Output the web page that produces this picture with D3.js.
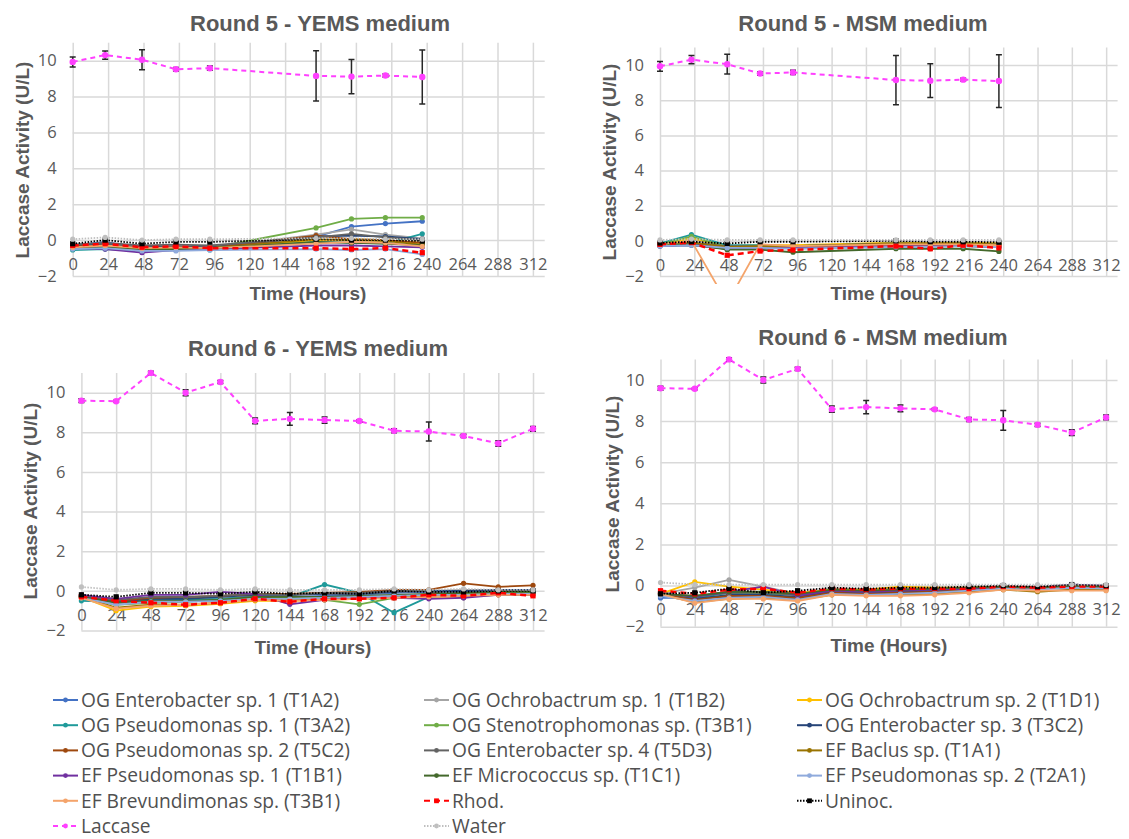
<!DOCTYPE html>
<html>
<head>
<meta charset="utf-8">
<script src="https://cdn.jsdelivr.net/npm/d3@7"></script>
<style>
  body { margin: 0; background: #fff; }
  svg { display: block; }
  .title { font-family: "Liberation Sans", Arial, sans-serif; font-weight: bold; font-size: 22px; fill: #595959; }
  .axis-title { font-family: "Liberation Sans", Arial, sans-serif; font-weight: bold; font-size: 19px; fill: #595959; }
  .tick text { font-family: "Open Sans", sans-serif; font-size: 16.5px; fill: #595959; }
  .legend text { font-family: "Open Sans", sans-serif; font-size: 19.2px; fill: #505050; }
</style>
</head>
<body>
<div id="chart"></div>
<script>
const W = 1129, H = 839;

// sampling times (hours)
const timesR5 = [0, 22, 47, 70, 93, 165, 189, 212, 237];
const timesR6 = [0, 24, 48, 72, 96, 120, 144, 168, 192, 216, 240, 264, 288, 312];
const xTicks = [0, 24, 48, 72, 96, 120, 144, 168, 192, 216, 240, 264, 288, 312];
const yTicks = [-2, 0, 2, 4, 6, 8, 10];

const seriesNames = [
  "OG Enterobacter sp. 1 (T1A2)", "OG Ochrobactrum sp. 1 (T1B2)", "OG Ochrobactrum sp. 2 (T1D1)",
  "OG Pseudomonas sp. 1 (T3A2)", "OG Stenotrophomonas sp. (T3B1)", "OG Enterobacter sp. 3 (T3C2)",
  "OG Pseudomonas sp. 2 (T5C2)", "OG Enterobacter sp. 4 (T5D3)", "EF Baclus sp. (T1A1)",
  "EF Pseudomonas sp. 1 (T1B1)", "EF Micrococcus sp.  (T1C1)", "EF Pseudomonas sp. 2 (T2A1)",
  "EF Brevundimonas sp. (T3B1)", "Rhod.", "Uninoc.",
  "Laccase", "Water"
];
const seriesColors = [
  "#4472c4", "#a5a5a5", "#ffc000",
  "#1f9a9a", "#70ad47", "#264478",
  "#9e480e", "#636363", "#997300",
  "#7030a0", "#43682b", "#8faadc",
  "#f4a46b", "#ff0000", "#000000",
  "#ff40ff", "#bfbfbf"
];
const seriesDash = ["", "", "", "", "", "", "", "", "", "", "", "", "", "6,4", "1.5,1.5", "5,4", "1.5,1.5"];
const seriesMarker = ["c", "c", "c", "c", "c", "c", "c", "c", "c", "c", "c", "c", "c", "s", "s", "c", "c"];

// laccase control (same in both media of a round)
const laccaseR5 = [9.93, 10.31, 10.05, 9.52, 9.58, 9.15, 9.11, 9.17, 9.09];
const laccaseErrR5 = [0.28, 0.23, 0.56, 0.1, 0.12, 1.4, 0.96, 0.08, 1.5];
const laccaseR6 = [9.6, 9.57, 11.0, 10.0, 10.54, 8.58, 8.68, 8.62, 8.57, 8.08, 8.04, 7.82, 7.44, 8.18];
const laccaseErrR6 = [0.1, 0.05, 0.08, 0.15, 0.08, 0.15, 0.32, 0.16, 0.06, 0.1, 0.48, 0.08, 0.14, 0.12];

// Round 5 - YEMS (rows in legend order, laccase excluded)
const r5Yems = [
  [-0.3, -0.1, -0.45, -0.5, -0.5, 0.2, 0.75, 0.92, 1.05],
  [-0.3, -0.2, -0.4, -0.35, -0.4, 0.3, 0.6, 0.3, 0.1],
  [-0.35, -0.3, -0.4, -0.4, -0.45, 0.0, 0.05, 0.0, -0.15],
  [-0.55, -0.5, -0.6, -0.55, -0.55, -0.1, -0.15, -0.2, 0.35],
  [-0.45, -0.4, -0.55, -0.5, -0.45, 0.68, 1.18, 1.25, 1.25],
  [-0.3, -0.25, -0.4, -0.35, -0.4, 0.2, 0.25, 0.2, 0.05],
  [-0.35, -0.3, -0.45, -0.4, -0.45, 0.25, 0.05, 0.0, -0.15],
  [-0.25, -0.15, -0.3, -0.25, -0.3, 0.15, 0.35, 0.15, 0.0],
  [-0.4, -0.35, -0.5, -0.45, -0.45, 0.05, 0.0, -0.05, -0.25],
  [-0.45, -0.5, -0.7, -0.55, -0.5, -0.3, -0.3, -0.35, -0.4],
  [-0.4, -0.4, -0.55, -0.5, -0.45, -0.1, -0.15, -0.2, -0.3],
  [-0.5, -0.45, -0.6, -0.6, -0.55, -0.5, -0.55, -0.5, -0.8],
  [-0.4, -0.3, -0.45, -0.4, -0.45, -0.2, -0.1, -0.15, -0.35],
  [-0.3, -0.2, -0.4, -0.35, -0.45, -0.45, -0.5, -0.45, -0.7],
  [-0.2, 0.0, -0.2, -0.1, -0.1, 0.05, 0.0, 0.0, -0.05],
  [0.05, 0.15, 0.0, 0.05, 0.05, 0.1, 0.1, 0.05, 0.05]
];

// Round 5 - MSM
const r5Msm = [
  [-0.25, -0.15, -0.45, -0.4, -0.4, -0.2, -0.25, -0.25, -0.3],
  [-0.2, 0.1, -0.35, -0.3, -0.3, -0.1, -0.1, -0.1, -0.15],
  [-0.2, 0.15, -0.3, -0.25, -0.25, -0.1, -0.15, -0.1, -0.15],
  [-0.15, 0.35, -0.25, -0.25, -0.3, -0.15, -0.2, -0.15, -0.2],
  [-0.2, 0.25, -0.35, -0.35, -0.4, -0.25, -0.3, -0.3, -0.35],
  [-0.3, -0.25, -0.45, -0.4, -0.4, -0.25, -0.3, -0.3, -0.3],
  [-0.25, -0.15, -0.4, -0.35, -0.35, -0.2, -0.25, -0.2, -0.25],
  [-0.2, -0.1, -0.3, -0.3, -0.3, -0.15, -0.2, -0.15, -0.2],
  [-0.25, -0.1, -0.35, -0.3, -0.3, -0.15, -0.15, -0.15, -0.2],
  [-0.3, -0.2, -0.45, -0.45, -0.4, -0.3, -0.3, -0.3, -0.35],
  [-0.2, -0.2, -0.5, -0.5, -0.65, -0.45, -0.45, -0.45, -0.6],
  [-0.3, -0.25, -0.4, -0.4, -0.45, -0.35, -0.35, -0.3, -0.35],
  [-0.2, 0.0, -3.55, -0.2, -0.3, -0.2, -0.2, -0.2, -0.25],
  [-0.2, -0.1, -0.82, -0.58, -0.52, -0.3, -0.45, -0.25, -0.4],
  [-0.12, -0.05, -0.15, -0.05, -0.05, 0.0, -0.05, -0.05, -0.08],
  [0.05, 0.1, 0.05, 0.05, 0.05, 0.05, 0.05, 0.05, 0.05]
];

// Round 6 - YEMS
const r6Yems = [
  [-0.3, -0.6, -0.5, -0.45, -0.4, -0.25, -0.3, -0.25, -0.2, -0.1, -0.05, -0.05, 0.0, 0.0],
  [-0.25, -0.5, -0.35, -0.35, -0.3, -0.2, -0.2, -0.15, -0.15, -0.05, 0.0, 0.05, 0.05, 0.05],
  [-0.3, -1.0, -0.8, -0.75, -0.65, -0.5, -0.5, -0.45, -0.4, -0.35, -0.3, -0.3, -0.2, -0.2],
  [-0.5, -0.55, -0.45, -0.45, -0.4, -0.3, -0.3, 0.32, -0.1, -1.1, -0.3, -0.2, -0.1, -0.1],
  [-0.35, -0.7, -0.6, -0.55, -0.45, -0.3, -0.35, -0.45, -0.68, -0.35, -0.2, -0.15, -0.1, -0.1],
  [-0.25, -0.55, -0.4, -0.4, -0.3, -0.2, -0.2, -0.15, -0.15, -0.05, 0.0, 0.0, 0.05, 0.05],
  [-0.2, -0.5, -0.35, -0.3, -0.25, -0.15, -0.15, -0.1, -0.05, 0.05, 0.05, 0.38, 0.2, 0.28],
  [-0.25, -0.45, -0.3, -0.3, -0.25, -0.15, -0.2, -0.1, -0.1, 0.0, 0.0, -0.35, 0.0, 0.0],
  [-0.3, -0.85, -0.7, -0.7, -0.6, -0.45, -0.45, -0.4, -0.35, -0.3, -0.25, -0.2, -0.15, -0.15],
  [-0.2, -0.4, -0.2, -0.2, -0.05, -0.15, -0.68, -0.45, -0.35, -0.35, -0.4, -0.35, -0.2, -0.2],
  [-0.3, -0.6, -0.5, -0.5, -0.45, -0.3, -0.3, -0.3, -0.25, -0.2, -0.15, -0.1, -0.05, -0.05],
  [-0.35, -0.7, -0.55, -0.55, -0.5, -0.4, -0.4, -0.35, -0.3, -0.25, -0.2, -0.2, -0.15, -0.15],
  [-0.35, -0.9, -0.75, -0.7, -0.6, -0.45, -0.5, -0.45, -0.4, -0.35, -0.3, -0.25, -0.2, -0.2],
  [-0.3, -0.5, -0.6, -0.7, -0.6, -0.4, -0.55, -0.4, -0.4, -0.35, -0.2, -0.25, -0.1, -0.25],
  [-0.2, -0.3, -0.1, -0.1, -0.15, -0.05, -0.15, -0.1, -0.15, 0.0, -0.05, -0.05, 0.0, 0.0],
  [0.2, 0.05, 0.1, 0.1, 0.05, 0.1, 0.05, 0.05, 0.05, 0.1, 0.05, 0.1, 0.05, 0.05]
];

// Round 6 - MSM
const r6Msm = [
  [-0.6, -0.6, -0.55, -0.5, -0.65, -0.35, -0.4, -0.35, -0.3, -0.25, -0.15, -0.15, -0.1, -0.1],
  [-0.4, -0.1, 0.28, -0.05, -0.4, -0.15, -0.2, -0.15, -0.15, -0.1, -0.05, -0.1, 0.0, -0.05],
  [-0.4, 0.18, -0.05, -0.2, -0.35, -0.2, -0.2, -0.05, -0.1, -0.1, -0.05, -0.1, -0.05, -0.05],
  [-0.45, -0.6, -0.35, -0.4, -0.45, -0.3, -0.35, -0.3, -0.25, -0.2, -0.1, -0.15, -0.05, -0.05],
  [-0.4, -0.55, -0.3, -0.35, -0.45, -0.25, -0.3, -0.25, -0.2, -0.15, -0.1, -0.1, -0.05, -0.05],
  [-0.45, -0.65, -0.45, -0.45, -0.55, -0.3, -0.35, -0.3, -0.25, -0.2, -0.1, -0.15, -0.05, -0.05],
  [-0.4, -0.7, -0.5, -0.5, -0.6, -0.35, -0.4, -0.35, -0.3, -0.2, -0.1, -0.15, -0.05, -0.1],
  [-0.4, -0.5, -0.35, -0.35, -0.45, -0.25, -0.3, -0.25, -0.2, -0.15, -0.05, -0.1, 0.0, -0.05],
  [-0.45, -0.8, -0.65, -0.6, -0.7, -0.45, -0.45, -0.45, -0.4, -0.3, -0.2, -0.3, -0.2, -0.2],
  [-0.35, -0.55, -0.3, -0.05, -0.5, -0.25, -0.3, -0.25, -0.2, -0.15, -0.05, -0.1, 0.05, 0.0],
  [-0.4, -0.5, -0.3, -0.3, -0.4, -0.2, -0.25, -0.2, -0.15, -0.1, -0.05, -0.1, 0.0, -0.05],
  [-0.5, -0.75, -0.6, -0.55, -0.7, -0.4, -0.45, -0.4, -0.35, -0.25, -0.15, -0.2, -0.1, -0.15],
  [-0.4, -0.85, -0.65, -0.65, -0.75, -0.45, -0.5, -0.5, -0.45, -0.35, -0.2, -0.25, -0.25, -0.25],
  [-0.25, -0.4, -0.2, -0.15, -0.35, -0.15, -0.2, -0.15, -0.15, -0.15, -0.05, -0.1, -0.05, -0.05],
  [-0.4, -0.35, -0.15, -0.35, -0.25, -0.1, -0.15, -0.1, -0.1, -0.05, 0.0, -0.05, 0.05, 0.0],
  [0.15, 0.05, 0.05, 0.05, 0.05, 0.05, 0.05, 0.05, 0.05, 0.05, 0.05, 0.05, 0.05, 0.05]
];

const panels = [
  { title: "Round 5 - YEMS medium", t: timesR5, rows: r5Yems, lac: laccaseR5, err: laccaseErrR5,
    l: 72.7, r: 544.7, top: 42.7, bot: 276, tx: 320, ty: 23, yx: 22, yy: 160, xx: 308, xy: 293 },
  { title: "Round 5 - MSM medium", t: timesR5, rows: r5Msm, lac: laccaseR5, err: laccaseErrR5,
    l: 660, r: 1117.6, top: 47.5, bot: 276, tx: 863, ty: 23, yx: 609, yy: 162, xx: 889, xy: 293 },
  { title: "Round 6 - YEMS medium", t: timesR6, rows: r6Yems, lac: laccaseR6, err: laccaseErrR6,
    l: 81.4, r: 544.6, top: 372.9, bot: 630.5, tx: 318, ty: 348, yx: 30, yy: 501, xx: 313, xy: 647 },
  { title: "Round 6 - MSM medium", t: timesR6, rows: r6Msm, lac: laccaseR6, err: laccaseErrR6,
    l: 660.5, r: 1117.5, top: 359.4, bot: 626.7, tx: 883, ty: 337, yx: 612.6, yy: 494, xx: 889, xy: 645 }
];

const svg = d3.select("#chart").append("svg")
  .attr("width", W).attr("height", H)
  .attr("viewBox", `0 0 ${W} ${H}`);

function drawMarker(g, kind, color, cx, cy, size) {
  if (kind === "s") {
    g.append("rect").attr("x", cx - size).attr("y", cy - size)
      .attr("width", size * 2).attr("height", size * 2).attr("fill", color);
  } else {
    g.append("circle").attr("cx", cx).attr("cy", cy).attr("r", size).attr("fill", color);
  }
}

panels.forEach((p, pi) => {
  const x = d3.scaleLinear().domain([0, 320]).range([p.l, p.r]);
  const y = d3.scaleLinear().domain([-2, 11]).range([p.bot, p.top]);
  const g = svg.append("g");

  // grid
  const vg = g.append("g").attr("transform", `translate(0,${p.bot})`)
    .call(d3.axisBottom(x).tickValues(xTicks).tickSize(-(p.bot - p.top)).tickFormat(""));
  const hg = g.append("g").attr("transform", `translate(${p.l},0)`)
    .call(d3.axisLeft(y).tickValues(yTicks).tickSize(-(p.r - p.l)).tickFormat(""));
  [vg, hg].forEach(a => {
    a.select(".domain").remove();
    a.selectAll("line").attr("stroke", "#d9d9d9").attr("stroke-width", 1.5);
  });

  // tick labels
  const yl = g.append("g").attr("transform", `translate(${p.l},0)`)
    .call(d3.axisLeft(y).tickValues(yTicks).tickSize(0).tickPadding(16));
  yl.select(".domain").remove();
  const xl = g.append("g").attr("transform", `translate(0,${y(0)})`)
    .call(d3.axisBottom(x).tickValues(xTicks).tickSize(0).tickPadding(18));
  xl.select(".domain").remove();

  // titles
  g.append("text").attr("class", "title").attr("x", p.tx).attr("y", p.ty).attr("dy", "0.35em")
    .attr("text-anchor", "middle").text(p.title);
  g.append("text").attr("class", "axis-title").attr("text-anchor", "middle").attr("dy", "0.35em")
    .attr("transform", `translate(${p.yx},${p.yy}) rotate(-90)`).text("Laccase Activity (U/L)");
  g.append("text").attr("class", "axis-title").attr("x", p.xx).attr("y", p.xy).attr("dy", "0.35em")
    .attr("text-anchor", "middle").text("Time (Hours)");

  // clip region (lines may run a little past the bottom edge)
  const clipId = "clip" + pi;
  svg.append("clipPath").attr("id", clipId).append("rect")
    .attr("x", p.l - 6).attr("y", p.top - 6).attr("width", p.r - p.l + 12).attr("height", p.bot - p.top + 14);
  const plot = g.append("g").attr("clip-path", `url(#${clipId})`);

  const allRows = p.rows.slice(0, 15).concat([p.lac, p.rows[15]]);
  const line = d3.line().x((d, i) => x(p.t[i])).y(d => y(d));

  allRows.forEach((vals, si) => {
    const col = seriesColors[si];
    const sg = plot.append("g");
    sg.append("path").datum(vals).attr("d", line)
      .attr("fill", "none").attr("stroke", col)
      .attr("stroke-width", si === 13 ? 2.5 : (si === 15 ? 2 : 1.8))
      .attr("stroke-dasharray", seriesDash[si] || null);
    if (si === 15) {
      // error bars on laccase control
      vals.forEach((v, i) => {
        const cx = x(p.t[i]);
        const e = p.err[i];
        sg.append("line").attr("x1", cx).attr("x2", cx).attr("y1", y(v - e)).attr("y2", y(v + e))
          .attr("stroke", "#262626").attr("stroke-width", 1.5);
        [v - e, v + e].forEach(ev => {
          sg.append("line").attr("x1", cx - 3).attr("x2", cx + 3).attr("y1", y(ev)).attr("y2", y(ev))
            .attr("stroke", "#262626").attr("stroke-width", 1.5);
        });
      });
    }
    vals.forEach((v, i) => drawMarker(sg, seriesMarker[si], col, x(p.t[i]), y(v), si === 15 ? 3.2 : 2.6));
  });
});

// legend
const legendCols = [53, 424, 797];
const legend = svg.append("g").attr("class", "legend");
seriesNames.forEach((name, i) => {
  const cx = legendCols[i % 3];
  const cy = 700 + Math.floor(i / 3) * 25.2;
  const col = seriesColors[i];
  const lg = legend.append("g");
  lg.append("line").attr("x1", cx).attr("x2", cx + 25).attr("y1", cy).attr("y2", cy)
    .attr("stroke", col).attr("stroke-width", 2)
    .attr("stroke-dasharray", seriesDash[i] || null);
  drawMarker(lg, seriesMarker[i], col, cx + 12.5, cy, 2.4);
  lg.append("text").attr("x", cx + 28).attr("y", cy).attr("dy", "0.35em").text(name);
});
</script>
</body>
</html>
